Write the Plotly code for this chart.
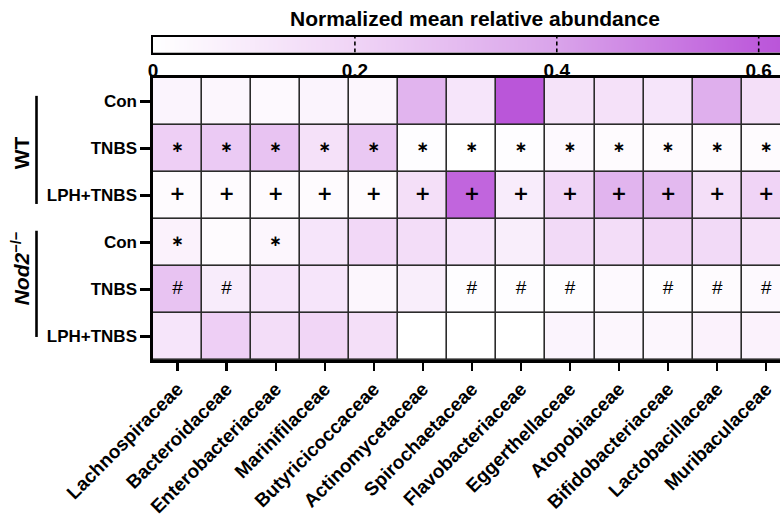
import plotly.graph_objects as go

# ---------------- data ----------------
families = ["Lachnospiraceae", "Bacteroidaceae", "Enterobacteriaceae", "Marinifilaceae",
            "Butyricicoccaceae", "Actinomycetaceae", "Spirochaetaceae", "Flavobacteriaceae",
            "Eggerthellaceae", "Atopobiaceae", "Bifidobacteriaceae", "Lactobacillaceae",
            "Muribaculaceae"]
groups = ["Con", "TNBS", "LPH+TNBS", "Con", "TNBS", "LPH+TNBS"]

wt_con        = [0.05, 0.04, 0.03, 0.05, 0.04, 0.33, 0.12, 0.62, 0.13, 0.14, 0.12, 0.35, 0.15]
wt_tnbs       = [0.22, 0.24, 0.27, 0.14, 0.25, 0.01, 0.00, 0.01, 0.03, 0.02, 0.02, 0.02, 0.02]
wt_lph_tnbs   = [0.02, 0.02, 0.02, 0.02, 0.02, 0.15, 0.57, 0.09, 0.20, 0.33, 0.31, 0.15, 0.20]
nod2_con      = [0.06, 0.02, 0.04, 0.12, 0.18, 0.16, 0.12, 0.08, 0.17, 0.16, 0.19, 0.17, 0.14]
nod2_tnbs     = [0.27, 0.09, 0.12, 0.12, 0.04, 0.08, 0.01, 0.01, 0.01, 0.03, 0.01, 0.02, 0.03]
nod2_lph_tnbs = [0.12, 0.22, 0.16, 0.19, 0.15, 0.00, 0.00, 0.00, 0.05, 0.04, 0.04, 0.06, 0.06]

# significance marks per row
marks_wt_con        = [""] * 13
marks_wt_tnbs       = ["*"] * 13
marks_wt_lph_tnbs   = ["+"] * 13
marks_nod2_con      = ["*", "", "*", "", "", "", "", "", "", "", "", "", ""]
marks_nod2_tnbs     = ["#", "#", "", "", "", "", "#", "#", "#", "", "#", "#", "#"]
marks_nod2_lph_tnbs = [""] * 13

scale_ticks = [0, 0.2, 0.4, 0.6, 0.8]
scale_tick_labels = ["0", "0.2", "0.4", "0.6", "0.8"]

# ---------------- figure ----------------
z = [wt_con, wt_tnbs, wt_lph_tnbs, nod2_con, nod2_tnbs, nod2_lph_tnbs]
marks = [marks_wt_con, marks_wt_tnbs, marks_wt_lph_tnbs,
         marks_nod2_con, marks_nod2_tnbs, marks_nod2_lph_tnbs]

colorscale = [[0.0, "#ffffff"], [0.25, "#f0d4f6"], [0.5, "#d9a3ea"],
              [0.75, "#bd5adb"], [1.0, "#a030c8"]]
ZMIN, ZMAX = 0, 0.8

fig = go.Figure()

fig.add_trace(go.Heatmap(
    z=z, x=list(range(len(families))), y=list(range(len(groups))),
    colorscale=colorscale, zmin=ZMIN, zmax=ZMAX, showscale=False,
    xgap=1.6, ygap=1.6, hoverinfo="skip"))

sym_style = {
    "*": ("\u2217", "DejaVu Sans", 15, "bold"),
    "+": ("+", "DejaVu Sans", 19, "bold"),
    "#": ("#", "Liberation Sans", 19, "normal"),
}
for sym, (glyph, fam, size, weight) in sym_style.items():
    xs, ys = [], []
    for r, row in enumerate(marks):
        for c, m in enumerate(row):
            if m == sym:
                xs.append(c)
                ys.append(r)
    fig.add_trace(go.Scatter(
        x=xs, y=ys, mode="text", text=[glyph] * len(xs),
        textfont=dict(family=fam, size=size, color="black", weight=weight),
        textposition="middle center", hoverinfo="skip", showlegend=False))

# colour bar drawn as a smooth heatmap on its own axis
fig.add_trace(go.Heatmap(
    z=[scale_ticks, scale_ticks], x=scale_ticks, y=[0, 1],
    colorscale=colorscale, zmin=ZMIN, zmax=ZMAX, showscale=False,
    zsmooth="best", xaxis="x2", yaxis="y2", hoverinfo="skip"))

dash_x, dash_y = [], []
for t in scale_ticks[1:]:
    dash_x += [t, t, None]
    dash_y += [0, 1, None]
fig.add_trace(go.Scatter(
    x=dash_x, y=dash_y, mode="lines", xaxis="x2", yaxis="y2",
    line=dict(color="black", width=1.6, dash="4px,3px"),
    hoverinfo="skip", showlegend=False))

L, R, T, B = 153, 0, 10, 156
W, H = 780, 516
ph = H - T - B
col_w = 49.06
x_hi = -0.5 + (W - L - R) / col_w

label_font = dict(family="Liberation Sans", size=17, color="black", weight="bold")

fig.update_layout(
    template="none",
    width=W, height=H,
    margin=dict(l=L, r=R, t=T, b=B, autoexpand=False),
    paper_bgcolor="white", plot_bgcolor="#2b2b2b",
    showlegend=False,
    xaxis=dict(
        domain=[0, 1], range=[-0.5, x_hi], automargin=False,
        tickmode="array", tickvals=list(range(len(families))), ticktext=families,
        tickangle=-45, tickfont=dict(family="Liberation Sans", size=19, color="black", weight="bold"),
        ticks="outside", ticklen=8, tickwidth=2.2, tickcolor="black",
        showline=True, linewidth=2.6, linecolor="black", mirror=True,
        showgrid=False, zeroline=False, fixedrange=True),
    yaxis=dict(
        domain=[0, (360 - 78) / ph], range=[5.5, -0.5], automargin=False,
        tickmode="array", tickvals=list(range(len(groups))), ticktext=groups,
        tickfont=label_font,
        ticks="outside", ticklen=10, tickwidth=2.2, tickcolor="black",
        showline=True, linewidth=2.6, linecolor="black",
        showgrid=False, zeroline=False, fixedrange=True),
    xaxis2=dict(
        domain=[0, 1], anchor="y2", range=[0, (W - L - R) / 1009.5], automargin=False,
        tickmode="array", tickvals=scale_ticks, ticktext=scale_tick_labels,
        tickfont=dict(family="Liberation Sans", size=19, color="black", weight="bold"),
        ticks="", showline=True, linewidth=2, linecolor="black", mirror=True,
        showgrid=False, zeroline=False, fixedrange=True),
    yaxis2=dict(
        domain=[(360 - 52.5) / ph, (360 - 36.7) / ph], anchor="x2", range=[0, 1],
        automargin=False,
        showticklabels=False, ticks="", showline=True, linewidth=2, linecolor="black",
        mirror=True, showgrid=False, zeroline=False, fixedrange=True),
)

def px_x(p):
    return (p - L) / (W - L - R)

def px_y(p):
    return (H - B - p) / ph

fig.add_annotation(text="Normalized mean relative abundance", xref="paper", yref="paper",
                   x=px_x(475), y=px_y(18), xanchor="center", yanchor="middle",
                   showarrow=False,
                   font=dict(family="Liberation Sans", size=21, color="black", weight="bold"))

fig.add_annotation(text="WT", xref="paper", yref="y", x=px_x(21), y=1.1,
                   xanchor="center", yanchor="middle",
                   textangle=-90, showarrow=False,
                   font=dict(family="Liberation Sans", size=21, color="black", weight="bold"))
fig.add_annotation(text="<i>Nod2</i><sup>\u2212/\u2212</sup>", xref="paper", yref="y",
                   x=px_x(21), y=3.55, xanchor="center", yanchor="middle",
                   textangle=-90, showarrow=False,
                   font=dict(family="Liberation Sans", size=21, color="black", weight="bold"))

fig.add_shape(type="line", xref="paper", yref="y", x0=px_x(36.5), x1=px_x(36.5),
              y0=-0.12, y1=2.18, line=dict(color="black", width=2.6))
fig.add_shape(type="line", xref="paper", yref="y", x0=px_x(36.5), x1=px_x(36.5),
              y0=2.75, y1=5.01, line=dict(color="black", width=2.6))

fig.write_html(
    "out.html",
    config={"displayModeBar": False, "staticPlot": True},
    post_script="document.body.style.margin='0';document.body.style.overflow='hidden';",
)
